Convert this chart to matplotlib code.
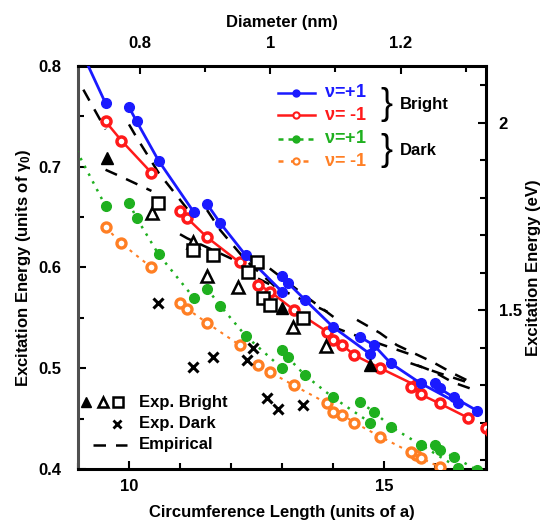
import numpy as np
import matplotlib.pyplot as plt

plt.rcParams['font.family'] = ['Liberation Sans', 'DejaVu Sans']
plt.rcParams['font.weight'] = 'bold'
plt.rcParams['axes.labelweight'] = 'bold'
plt.rcParams['mathtext.fontset'] = 'custom'
plt.rcParams['mathtext.rm'] = 'Liberation Sans:bold'
plt.rcParams['mathtext.it'] = 'Liberation Sans:bold'

A_LAT = 0.246   # graphene lattice constant (nm)
GAMMA0 = 2.69   # hopping energy (eV)

# (circumference, energy) per 2n+m family, energy in units of gamma0
bright_plus = [
    ([8.89, 9.54], [0.834, 0.763]),
    ([10.0, 10.15, 10.58, 11.27], [0.759, 0.745, 0.706, 0.655]),
    ([11.53, 11.79, 12.29, 13.0], [0.663, 0.644, 0.612, 0.576]),
    ([13.0, 13.11, 13.45, 14.0, 14.73], [0.592, 0.585, 0.568, 0.541, 0.514]),
    ([14.53, 14.8, 15.13, 15.72, 16.46], [0.531, 0.523, 0.505, 0.485, 0.465]),
    ([16.0, 16.09, 16.37, 16.82], [0.485, 0.480, 0.471, 0.458]),
]
bright_minus = [
    ([9.54, 9.85, 10.44], [0.745, 0.726, 0.694]),
    ([11.0, 11.14, 11.53, 12.17], [0.656, 0.649, 0.630, 0.605]),
    ([12.53, 12.77, 13.23, 13.89], [0.583, 0.576, 0.558, 0.536]),
    ([14.0, 14.18, 14.42, 14.93, 15.62], [0.528, 0.523, 0.513, 0.500, 0.483]),
    ([15.52, 15.72, 16.09, 16.64], [0.481, 0.474, 0.465, 0.451]),
    ([17.0, 17.09], [0.441, 0.437]),
]
dark_plus = [
    ([8.89, 9.54], [0.724, 0.661]),
    ([10.0, 10.15, 10.58, 11.27], [0.664, 0.649, 0.613, 0.570]),
    ([11.53, 11.79, 12.29, 13.0], [0.579, 0.562, 0.532, 0.500]),
    ([13.0, 13.11, 13.45, 14.0, 14.73], [0.518, 0.511, 0.493, 0.471, 0.446]),
    ([14.53, 14.8, 15.13, 15.72, 16.46], [0.466, 0.457, 0.442, 0.424, 0.401]),
    ([16.0, 16.09, 16.37, 16.82], [0.424, 0.419, 0.412, 0.399]),
]
dark_minus = [
    ([9.54, 9.85, 10.44], [0.640, 0.624, 0.600]),
    ([11.0, 11.14, 11.53, 12.17], [0.565, 0.559, 0.545, 0.523]),
    ([12.53, 12.77, 13.23, 13.89], [0.503, 0.496, 0.483, 0.465]),
    ([14.0, 14.18, 14.42, 14.93, 15.62], [0.457, 0.454, 0.446, 0.432, 0.414]),
    ([15.52, 15.72, 16.09, 16.64], [0.417, 0.411, 0.402, 0.388]),
]
empirical = [
    ([8.89, 9.54], [0.796, 0.737]),
    ([9.54, 9.85, 10.44], [0.697, 0.690, 0.676]),
    ([10.0, 10.15, 10.58, 11.27], [0.742, 0.729, 0.694, 0.650]),
    ([11.0, 11.14, 11.53, 12.17], [0.633, 0.629, 0.620, 0.605]),
    ([11.53, 11.79, 12.29, 13.0], [0.657, 0.637, 0.607, 0.575]),
    ([12.53, 12.77, 13.23, 13.89], [0.589, 0.583, 0.572, 0.556]),
    ([12.76, 13.45, 14.06], [0.599, 0.572, 0.549]),
    ([14.0, 14.42, 14.93, 15.62], [0.541, 0.533, 0.524, 0.512]),
    ([14.47, 14.92, 15.25, 15.96, 16.35, 16.75],
     [0.548, 0.535, 0.523, 0.506, 0.495, 0.485]),
    ([15.52, 16.09, 16.64], [0.505, 0.495, 0.486]),
    ([15.65, 15.96, 16.35, 16.8], [0.503, 0.497, 0.486, 0.478]),
]

exp_bright_filled_c = [9.57, 13.0, 14.73]
exp_bright_filled_e = [0.709, 0.560, 0.503]
exp_bright_tri_c = [10.45, 11.25, 11.53, 12.14, 13.22, 13.86]
exp_bright_tri_e = [0.654, 0.625, 0.592, 0.581, 0.541, 0.522]
exp_bright_sq_c = [10.57, 11.25, 11.65, 12.51, 12.33, 12.63, 12.76, 13.41]
exp_bright_sq_e = [0.664, 0.617, 0.612, 0.605, 0.596, 0.570, 0.563, 0.550]
exp_dark_c = [10.57, 11.25, 11.65, 12.31, 12.43, 12.71, 12.92, 13.41]
exp_dark_e = [0.565, 0.501, 0.511, 0.508, 0.520, 0.470, 0.460, 0.464]

BLUE = '#1a1aff'
RED = '#ff1a1a'
GREEN = '#1fb01f'
ORANGE = '#ff7f24'

fig = plt.figure(figsize=(5.47, 5.25), dpi=100)
ax = fig.add_axes([0.1426, 0.1067, 0.7459, 0.7676])

for xs, ys in empirical:
    ax.plot(xs, ys, color='black', lw=1.8, dashes=(5, 4), zorder=2)

for xs, ys in dark_minus:
    ax.plot(xs, ys, color=ORANGE, lw=1.5, ls=(0, (1.5, 2.5)), marker='o',
            ms=6.5, mfc='white', mec=ORANGE, mew=2.4, zorder=3)
for xs, ys in dark_plus:
    ax.plot(xs, ys, color=GREEN, lw=1.8, ls=(0, (1, 2.5)), marker='o',
            ms=7, mfc=GREEN, mec=GREEN, zorder=3)
for xs, ys in bright_minus:
    ax.plot(xs, ys, color=RED, lw=1.8, marker='o', ms=6.5, mfc='white',
            mec=RED, mew=2.5, zorder=4)
for xs, ys in bright_plus:
    ax.plot(xs, ys, color=BLUE, lw=2, marker='o', ms=7, mfc=BLUE,
            mec=BLUE, zorder=4)

ax.plot(exp_bright_filled_c, exp_bright_filled_e, ls='none', marker='^',
        ms=8, color='black', zorder=5)
ax.plot(exp_bright_tri_c, exp_bright_tri_e, ls='none', marker='^', ms=8,
        mfc='white', mec='black', mew=1.8, zorder=5)
ax.plot(exp_bright_sq_c, exp_bright_sq_e, ls='none', marker='s', ms=8,
        mfc='white', mec='black', mew=1.8, zorder=5)
ax.plot(exp_dark_c, exp_dark_e, ls='none', marker='x', ms=7, mew=2.2,
        color='black', zorder=5)

ax.set_xlim(9, 17)
ax.set_ylim(0.4, 0.8)
ax.set_xticks([10, 15])
ax.set_xticks(np.arange(9, 18), minor=True)
ax.set_yticks([0.4, 0.5, 0.6, 0.7, 0.8])
ax.set_yticklabels(['0.4', '0.5', '0.6', '0.7', '0.8'])
ax.set_yticks(np.arange(0.4, 0.801, 0.05), minor=True)
ax.tick_params(which='both', direction='in', width=1.5, labelsize=12)
ax.tick_params(which='major', length=6)
ax.tick_params(which='minor', length=4)
ax.tick_params(axis='y', pad=12)
ax.tick_params(axis='x', pad=7)
for side in ['top', 'right', 'bottom']:
    ax.spines[side].set_linewidth(2.2)
ax.spines['left'].set_linewidth(2.2)
ax.spines['left'].set_color('#505050')

ax.set_xlabel('Circumference Length (units of a)', fontsize=12, labelpad=8)
ax.set_ylabel(r'Excitation Energy (units of $\gamma_0$)', fontsize=12,
              labelpad=4)

top = ax.secondary_xaxis('top', functions=(lambda c: c * A_LAT / np.pi,
                                           lambda d: d * np.pi / A_LAT))
top.set_xticks([0.8, 1.0, 1.2])
top.set_xticklabels(['0.8', '1', '1.2'])
top.set_xticks([0.9, 1.1, 1.3], minor=True)
top.tick_params(which='both', direction='in', width=1.5, labelsize=12,
                pad=11)
top.tick_params(which='major', length=6)
top.tick_params(which='minor', length=4)
top.set_xlabel('Diameter (nm)', fontsize=12, labelpad=6)

right = ax.secondary_yaxis('right', functions=(lambda e: e * GAMMA0,
                                               lambda v: v / GAMMA0))
right.set_yticks([1.5, 2.0])
right.set_yticklabels(['1.5', '2'])
right.set_yticks(np.arange(1.1, 2.16, 0.1), minor=True)
right.tick_params(which='both', direction='in', width=1.5, labelsize=12,
                  pad=9)
right.tick_params(which='major', length=6)
right.tick_params(which='minor', length=4)
right.set_ylabel('Excitation Energy (eV)', fontsize=12, labelpad=3)

# family legend, upper right
tr = ax.transAxes
leg_rows = [
    (0.933, BLUE, '-', BLUE, r'$\nu$=+1'),
    (0.878, RED, '-', 'white', r'$\nu$= -1'),
    (0.819, GREEN, (0, (2, 2)), GREEN, r'$\nu$=+1'),
    (0.764, ORANGE, (0, (2, 3)), 'white', r'$\nu$= -1'),
]
for y, col, ls, mfc, label in leg_rows:
    ax.plot([0.49, 0.581], [y, y], color=col, ls=ls, lw=1.8, transform=tr,
            clip_on=False, zorder=6)
    ax.plot([0.5355], [y], marker='o', ms=4.5, color=col, mfc=mfc, mew=1.5,
            transform=tr, clip_on=False, zorder=6)
    ax.text(0.603, y, label, color=col, fontsize=13, va='center',
            ha='left', transform=tr)
ax.text(0.742, 0.905, '}', fontsize=26, va='center', ha='left',
        transform=tr, fontweight='normal')
ax.text(0.79, 0.905, 'Bright', fontsize=12, va='center', transform=tr)
ax.text(0.742, 0.79, '}', fontsize=26, va='center', ha='left',
        transform=tr, fontweight='normal')
ax.text(0.79, 0.79, 'Dark', fontsize=12, va='center', transform=tr)

# experiment / empirical legend, lower left
ax.plot([0.02], [0.166], marker='^', ms=7, color='black', transform=tr)
ax.plot([0.061], [0.166], marker='^', ms=7, mfc='white', mec='black',
        mew=1.8, transform=tr)
ax.plot([0.098], [0.166], marker='s', ms=7, mfc='white', mec='black',
        mew=1.8, transform=tr)
ax.text(0.15, 0.166, 'Exp. Bright', fontsize=12, va='center', transform=tr)
ax.plot([0.096], [0.112], marker='x', ms=6, mew=2, color='black',
        transform=tr)
ax.text(0.15, 0.112, 'Exp. Dark', fontsize=12, va='center', transform=tr)
ax.plot([0.037, 0.12], [0.06, 0.06], color='black', lw=1.8, dashes=(5, 4),
        transform=tr)
ax.text(0.15, 0.06, 'Empirical', fontsize=12, va='center', transform=tr)

fig.savefig('out.png', dpi=100)
